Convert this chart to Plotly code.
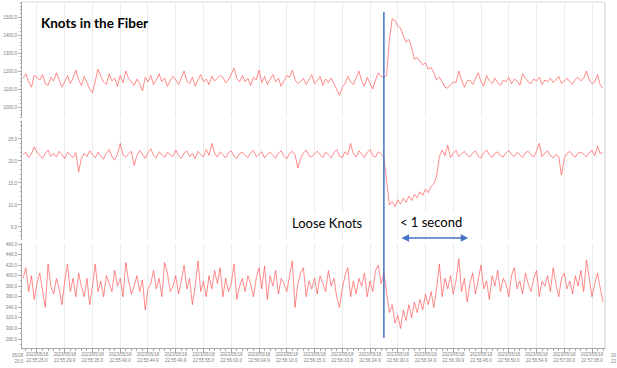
import plotly.graph_objects as go

# ---------------- data ----------------
t_start = 22.5          # seconds after 22:55:00
sample_step = 0.5       # seconds between samples

tension = [
    1160, 1185, 1140, 1110, 1175, 1165, 1150, 1180, 1130, 1120, 1165, 1145, 1190, 1155, 1110, 1140, 1175, 1130, 1160, 1205,
    1150, 1120, 1170, 1135, 1100, 1080, 1150, 1210, 1170, 1140, 1125, 1185, 1145, 1160, 1115, 1175, 1135, 1200, 1160, 1140,
    1120, 1155, 1130, 1090, 1165, 1140, 1175, 1125, 1150, 1185, 1140, 1160, 1115, 1145, 1170, 1150, 1125, 1160, 1200, 1145,
    1130, 1165, 1115, 1150, 1180, 1140, 1155, 1125, 1170, 1145, 1160, 1175, 1165, 1135, 1150, 1180, 1215, 1160, 1140, 1175,
    1140, 1160, 1120, 1165, 1150, 1205, 1135, 1170, 1125, 1155, 1180, 1140, 1160, 1115, 1145, 1175, 1165, 1205, 1150, 1130,
    1140, 1160, 1125, 1150, 1180, 1130, 1145, 1170, 1120, 1155, 1135, 1160, 1125, 1100, 1065, 1110, 1130, 1170, 1140, 1125,
    1160, 1200, 1145, 1115, 1165, 1130, 1100, 1150, 1190, 1170,
    1165, 1175, 1380, 1490, 1480, 1450, 1440, 1395, 1360, 1375, 1330, 1265, 1275, 1255, 1235, 1245, 1210, 1220, 1190, 1150,
    1165, 1140, 1110, 1105, 1125, 1140, 1135, 1200, 1150, 1110, 1145, 1150, 1125, 1160, 1190, 1140, 1115, 1175, 1145, 1130,
    1160, 1135, 1120, 1150, 1140, 1165, 1130, 1155, 1145, 1120, 1185, 1160, 1140, 1130, 1155, 1145, 1165, 1125, 1150, 1140,
    1160, 1135, 1150, 1170, 1130, 1145, 1160, 1140, 1125, 1155, 1165, 1145, 1160, 1200, 1150, 1130, 1140, 1180, 1120, 1105,
]

speed = [
    21.5, 22.0, 20.8, 21.6, 23.2, 22.0, 21.2, 20.6, 21.8, 22.5, 21.0, 21.7, 20.9, 22.2, 21.4, 20.5, 22.0, 21.3, 20.8, 21.9,
    17.5, 20.6, 21.8, 21.0, 22.3, 21.5, 20.7, 22.0, 21.2, 20.4, 21.8, 22.6, 21.0, 20.2, 21.6, 24.0, 21.3, 20.9, 21.7, 22.2,
    19.0, 21.2, 22.4, 21.5, 20.6, 21.9, 22.8, 21.3, 20.7, 22.1, 21.4, 20.8, 22.0, 21.6, 21.0, 22.5, 21.2, 20.6, 21.8, 22.3,
    21.0, 21.7, 20.5, 22.2, 21.4, 21.0, 22.6, 21.3, 24.0, 21.8, 20.9, 22.1, 21.5, 20.7, 21.9, 22.3, 21.1, 20.6, 21.7, 22.0,
    21.3, 20.8, 21.9, 22.4, 21.0, 21.6, 22.1, 20.7, 21.5, 22.0, 21.2, 20.6, 21.8, 22.3, 21.1, 20.5, 21.7, 22.2, 21.4, 18.4,
    20.6, 21.8, 22.5, 21.2, 20.9, 21.7, 22.2, 21.4, 20.8, 22.0, 21.5, 20.7, 21.9, 22.6, 21.1, 20.8, 22.1, 21.4, 24.0, 21.6,
    20.9, 22.3, 21.5, 20.8, 22.0, 22.6, 21.2, 20.9, 22.1, 21.6,
    20.8, 16.0, 10.0, 10.8, 9.6, 11.2, 10.2, 11.5, 10.6, 12.0, 11.0, 12.4, 11.6, 13.0, 12.2, 13.6, 12.8, 14.2, 14.8, 16.5,
    21.0, 22.5, 21.2, 23.6, 20.8, 21.7, 22.4, 21.0, 21.6, 22.2, 21.3, 20.9, 21.8, 22.3, 21.1, 20.7, 21.9, 22.5, 21.4, 20.8,
    21.7, 22.1, 21.2, 20.9, 21.8, 22.4, 21.5, 21.0, 22.0, 21.3, 20.8, 21.9, 22.2, 21.4, 20.9, 22.2, 24.0, 21.0, 21.8, 22.3,
    21.2, 20.7, 21.5, 21.0, 16.8, 20.5, 21.7, 22.2, 21.3, 20.9, 21.8, 22.0, 21.4, 21.0, 21.9, 22.4, 21.2, 23.4, 21.6, 22.1,
]

diameter = [
    395, 415, 370, 400, 355, 385, 405, 375, 340, 422, 380, 365, 395, 375, 345, 390, 422, 370, 395, 360,
    405, 380, 360, 395, 345, 380, 422, 370, 390, 360, 400, 385, 370, 410, 380, 395, 360, 425, 390, 365,
    380, 400, 370, 392, 335, 375, 385, 410, 375, 395, 360, 425, 405, 370, 380, 400, 365, 390, 420, 375,
    395, 345, 380, 428, 370, 390, 360, 400, 375, 410, 385, 415, 360, 395, 370, 385, 422, 355, 380, 395,
    370, 400, 385, 360, 395, 415, 375, 418, 355, 400, 380, 410, 365, 395, 385, 370, 400, 428, 340, 385,
    405, 415, 360, 390, 375, 395, 365, 400, 385, 370, 410, 380, 395, 360, 340, 375, 400, 415, 360, 390,
    365, 395, 380, 405, 360, 390, 370, 410, 420, 385,
    405, 370, 330, 345, 310, 325, 300, 335, 315, 345, 320, 350, 330, 355, 335, 365, 345, 370, 340, 375,
    422, 360, 395, 375, 400, 365, 390, 432, 370, 395, 350, 385, 405, 365, 395, 420, 375, 390, 355, 400,
    380, 410, 370, 395, 385, 360, 400, 415, 375, 390, 365, 405, 385, 370, 395, 410, 360, 390, 380, 400,
    370, 415, 385, 360, 395, 405, 375, 390, 365, 400, 380, 410, 370, 430, 395, 360, 385, 405, 375, 350,
]

tick_seconds = [25, 30, 35, 40, 45, 50, 55, 60, 65, 70, 75, 80, 85, 90, 95, 100, 105, 110, 115, 120, 125]
tick_times = ["22:55:25.0", "22:55:29.9", "22:55:35.0", "22:55:40.0", "22:55:44.9", "22:55:49.9",
              "22:55:55.0", "22:56:00.0", "22:56:04.9", "22:56:10.0", "22:56:15.0", "22:56:19.9",
              "22:56:24.9", "22:56:30.0", "22:56:34.9", "22:56:39.9", "22:56:45.0", "22:56:50.0",
              "22:56:54.9", "22:57:00.0", "22:57:05.0"]
tick_date = "2023/05/18"
edge_label_left = "05/18<br>20.0"
edge_label_right = "20<br>22"
event_second = 87.5
arrow_from, arrow_to = 90.4, 102.7

# ---------------- figure ----------------
def times_for(values):
    return [t_start + sample_step * i for i in range(len(values))]

W, H = 617, 368
L, R, T, B = 22, 12, 2, 20
PW, PH = W - L - R, H - T - B

def px(xp):
    return (xp - L) / PW

def py(yp):
    return (H - B - yp) / PH

line_col = "rgba(255,75,75,0.72)"
axis_col = "#a6a6a6"
lab_col = "#808080"
grid_col = "#ececec"
tick_font = dict(family="Liberation Sans", size=4.5, color=lab_col)

fig = go.Figure()
fig.add_trace(go.Scatter(x=times_for(tension), y=tension, xaxis="x", yaxis="y", mode="lines",
                         line=dict(color=line_col, width=0.9), hoverinfo="skip"))
fig.add_trace(go.Scatter(x=times_for(speed), y=speed, xaxis="x2", yaxis="y2", mode="lines",
                         line=dict(color=line_col, width=0.9), hoverinfo="skip"))
fig.add_trace(go.Scatter(x=times_for(diameter), y=diameter, xaxis="x3", yaxis="y3", mode="lines",
                         line=dict(color=line_col, width=0.9), hoverinfo="skip"))

xrange = [22.3, 127.34]
common_x = dict(range=xrange, showgrid=True, gridcolor=grid_col, gridwidth=1, zeroline=False,
                tickmode="array", tickvals=tick_seconds, automargin=False)
ticktext = [f"{tick_date}<br>{t}" for t in tick_times]

def yax(domain, rng, dtick, minor_dtick, anchor):
    return dict(domain=domain, range=rng, anchor=anchor, showgrid=False, zeroline=False,
                showline=True, linecolor=axis_col, linewidth=1, automargin=False,
                ticks="outside", ticklen=3, tickcolor=axis_col, tickwidth=1,
                tick0=0, dtick=dtick, tickformat=".1f", tickfont=tick_font,
                minor=dict(ticks="outside", ticklen=1.5, tickcolor=axis_col, dtick=minor_dtick, tick0=0,
                           showgrid=False))

fig.update_layout(
    width=W, height=H,
    margin=dict(l=L, r=R, t=T, b=B, autoexpand=False),
    paper_bgcolor="white", plot_bgcolor="white",
    showlegend=False,
    xaxis=dict(**common_x, anchor="y", showticklabels=False, ticks="", matches="x3"),
    xaxis2=dict(**common_x, anchor="y2", showticklabels=False, ticks="", matches="x3"),
    xaxis3=dict(**common_x, anchor="y3", showticklabels=True, ticktext=ticktext,
                showline=True, linecolor=axis_col, linewidth=1,
                ticks="outside", ticklen=4, tickcolor=axis_col, tickwidth=1,
                tickfont=tick_font, tickangle=0, ticklabelstandoff=-2,
                minor=dict(ticks="outside", ticklen=2, tickcolor=axis_col, tickmode="linear",
                           tick0=0, dtick=1, showgrid=False)),
    yaxis=yax([py(118), 1], [938.9, 1583.3], 100, 20, "x"),
    yaxis2=yax([py(240), py(121)], [2.04, 29.09], 5, 1, "x2"),
    yaxis3=yax([0, py(243)], [263, 461.9], 20, 10, "x3"),
)

# frame lines (top and right)
fig.add_shape(type="line", xref="paper", yref="paper", x0=0, x1=1, y0=1, y1=1,
              line=dict(color="#dcdcdc", width=1))
fig.add_shape(type="line", xref="paper", yref="paper", x0=1, x1=1, y0=0, y1=1,
              line=dict(color="#cfcfcf", width=1))

# event marker
fig.add_shape(type="line", xref="x3", yref="paper", x0=event_second, x1=event_second,
              y0=py(338), y1=py(12), line=dict(color="#4472C4", width=1.5))

# title & notes
fig.add_annotation(text="<b>Knots in the Fiber</b>", xref="paper", yref="paper",
                   x=px(94), y=py(23), showarrow=False, xanchor="center", yanchor="middle",
                   font=dict(family="Lato", size=13.5, color="black"))
fig.add_annotation(text="Loose Knots", xref="paper", yref="paper",
                   x=px(327), y=py(223), showarrow=False, xanchor="center", yanchor="middle",
                   font=dict(family="Lato", size=13, color="black"), bgcolor="white")
fig.add_annotation(text="< 1 second", xref="paper", yref="paper",
                   x=px(431), y=py(222), showarrow=False, xanchor="center", yanchor="middle",
                   font=dict(family="Lato", size=13, color="black"), bgcolor="white")
fig.add_annotation(text="", xref="x3", yref="paper", x=arrow_to, y=py(238),
                   axref="x3", ax=arrow_from, ayref="pixel", ay=0,
                   showarrow=True, arrowside="end+start", arrowhead=2, startarrowhead=2,
                   arrowsize=1, startarrowsize=1, arrowwidth=1.5, arrowcolor="#4472C4")

# partial tick labels at the image edges
fig.add_annotation(text=edge_label_left, xref="paper", yref="paper", x=px(25.5), y=py(351),
                   showarrow=False, xanchor="right", yanchor="top", align="right",
                   font=tick_font)
fig.add_annotation(text=edge_label_right, xref="paper", yref="paper", x=px(609), y=py(351),
                   showarrow=False, xanchor="left", yanchor="top", align="left",
                   font=tick_font)

fig.write_html("out.html", config={"displayModeBar": False},
               post_script="document.body.style.margin='0';document.body.style.overflow='hidden';")
